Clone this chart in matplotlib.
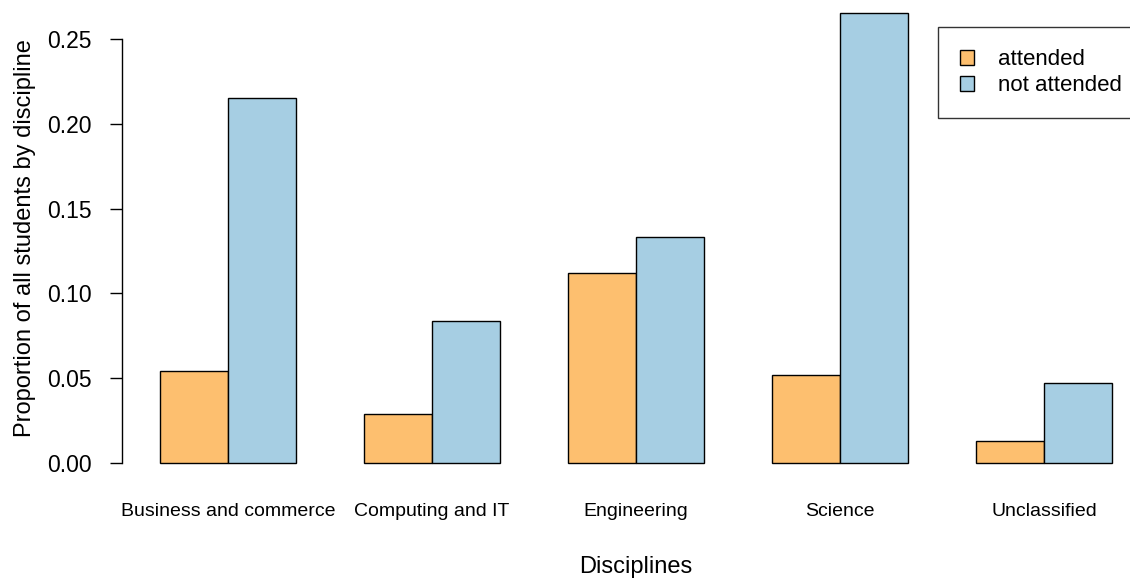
import matplotlib.pyplot as plt
import numpy as np

plt.rcParams['font.family'] = ['Liberation Sans', 'DejaVu Sans']

# Данные
disciplines = ['Business and commerce', 'Computing and IT', 'Engineering',
               'Science', 'Unclassified']
attended = [0.054, 0.029, 0.112, 0.052, 0.013]
not_attended = [0.215, 0.084, 0.133, 0.265, 0.047]
series_names = ['attended', 'not attended']
colors = ['#FDBF6F', '#A6CEE3']
yticks = [0.00, 0.05, 0.10, 0.15, 0.20, 0.25]

W, H = 1130, 579
fig = plt.figure(figsize=(W / 100, H / 100), dpi=100)
ax = fig.add_axes([122 / W, 98 / H, (1150 - 122) / W, 485 / H])

# Позиции столбцов как в R barplot(beside=TRUE)
grp = np.arange(len(disciplines)) * 3
b1 = ax.bar(grp + 1.5, attended, width=1, color=colors[0], edgecolor='black', linewidth=1)
b2 = ax.bar(grp + 2.5, not_attended, width=1, color=colors[1], edgecolor='black', linewidth=1)

ax.set_xlim(0.44, 15.56)
ax.set_ylim(-0.0106, 0.2753)

for s in ['top', 'right', 'bottom']:
    ax.spines[s].set_visible(False)
ax.spines['left'].set_bounds(0, 0.25)
ax.spines['left'].set_linewidth(1)

ax.set_yticks(yticks)
ax.set_yticklabels([f'{v:.2f}' for v in yticks])
ax.tick_params(axis='y', length=8.6, width=1, pad=13, labelsize=16.5)
ax.set_xticks(grp + 2)
ax.set_xticklabels(disciplines)
ax.tick_params(axis='x', length=0, pad=16, labelsize=14)

fig.text(25 / W, 1 - 238 / H, 'Proportion of all students by discipline',
         rotation=90, ha='center', va='center', fontsize=17)
fig.text(636 / W, 1 - 567 / H, 'Disciplines', ha='center', va='center', fontsize=17)

leg = fig.legend([b1, b2], series_names, loc='upper left',
                 bbox_to_anchor=(938 / W, 1 - 27 / H), fontsize=16,
                 frameon=True, fancybox=False, borderaxespad=0,
                 handlelength=0.64, handleheight=0.64, handletextpad=1.05,
                 borderpad=1.0, labelspacing=0.22)
leg.get_frame().set_edgecolor('black')
leg.get_frame().set_linewidth(1)

fig.savefig('out.png', dpi=100)
